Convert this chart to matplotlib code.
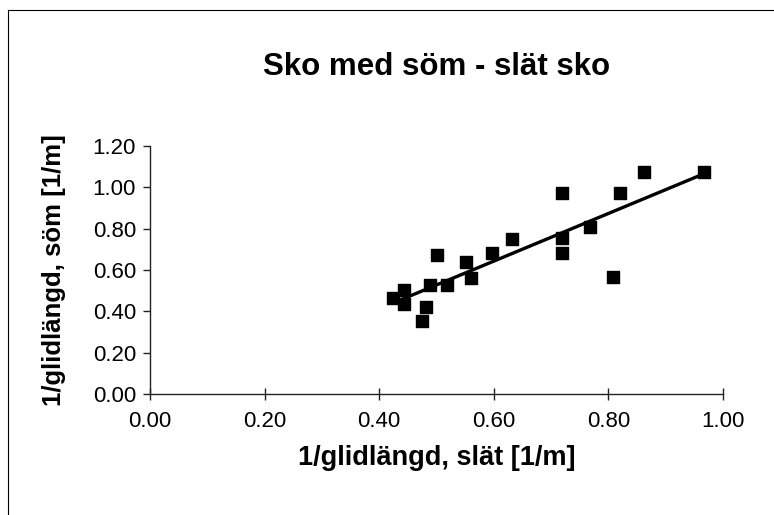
import numpy as np
import matplotlib
matplotlib.use('Agg')
import matplotlib.pyplot as plt
from matplotlib.lines import Line2D

plt.rcParams['font.family'] = ['Liberation Sans', 'DejaVu Sans']

# Data
slat = [0.424, 0.444, 0.444, 0.475, 0.482, 0.488, 0.501, 0.518, 0.551, 0.560,
        0.597, 0.632, 0.719, 0.719, 0.719, 0.768, 0.808, 0.821, 0.862, 0.967]
som = [0.464, 0.503, 0.435, 0.355, 0.419, 0.527, 0.672, 0.527, 0.637, 0.563,
       0.684, 0.748, 0.971, 0.753, 0.681, 0.806, 0.565, 0.974, 1.075, 1.075]

x_ticks = [0.0, 0.2, 0.4, 0.6, 0.8, 1.0]
y_ticks = [0.0, 0.2, 0.4, 0.6, 0.8, 1.0, 1.2]

x = np.array(slat)
y = np.array(som)

fig = plt.figure(figsize=(7.74, 5.15), dpi=100)
ax = fig.add_axes([150 / 774, 121 / 515, 573 / 774, 248 / 515])

# Linear trendline
k, m = np.polyfit(x, y, 1)
xl = np.array([x.min(), x.max()])
ax.plot(xl, k * xl + m, color='black', linewidth=2.4, solid_capstyle='butt', zorder=2)

ax.scatter(x, y, marker='s', s=70, color='black', zorder=3)

ax.set_xlim(0, 1.0)
ax.set_ylim(0, 1.2)
ax.set_xticks(x_ticks)
ax.set_yticks(y_ticks)
ax.set_xticklabels([f'{v:.2f}' for v in x_ticks])
ax.set_yticklabels([f'{v:.2f}' for v in y_ticks])

for s in ['top', 'right']:
    ax.spines[s].set_visible(False)
for s in ['left', 'bottom']:
    ax.spines[s].set_linewidth(1.0)
    ax.spines[s].set_color('#222222')

ax.tick_params(axis='x', direction='inout', length=9, width=1, labelsize=16, pad=8,
               color='#222222')
ax.tick_params(axis='y', direction='out', length=5, width=1, labelsize=16, pad=5,
               color='#222222')

fig.text(437 / 774, 1 - 67 / 515, 'Sko med söm - slät sko', fontsize=22.5,
         fontweight='bold', ha='center', va='center')
ax.set_xlabel('1/glidlängd, slät [1/m]', fontsize=19.5, fontweight='bold', va='center')
ax.xaxis.set_label_coords(0.5, (394 - 458) / 248)
ax.set_ylabel('1/glidlängd, söm [1/m]', fontsize=18.5, fontweight='bold', va='center')
ax.yaxis.set_label_coords((54 - 150) / 573, 0.5)

# frame around the chart area
fig.add_artist(Line2D([8 / 774, 8 / 774], [0, 1 - 10 / 515], transform=fig.transFigure,
                      color='black', linewidth=0.8))
fig.add_artist(Line2D([8 / 774, 1], [1 - 10 / 515, 1 - 10 / 515], transform=fig.transFigure,
                      color='black', linewidth=0.8))

fig.savefig('out.png', dpi=100)
